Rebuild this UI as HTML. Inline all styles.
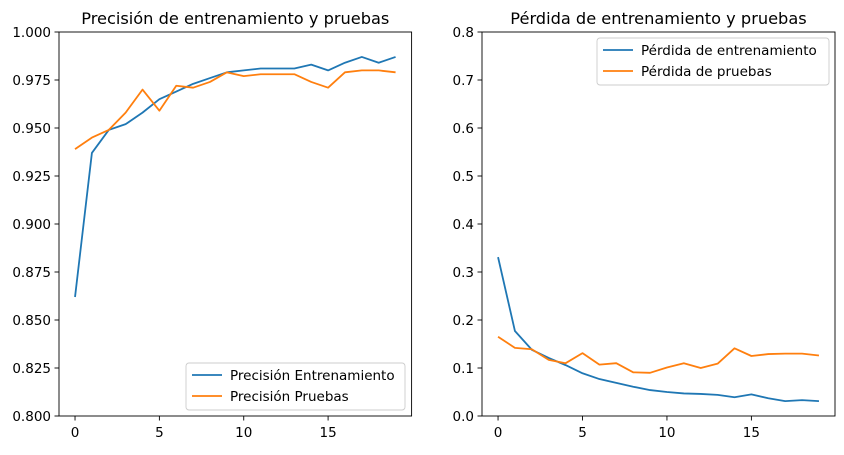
<!DOCTYPE html>
<html><head><meta charset="utf-8"><style>
body{margin:0;background:#fff;font-family:"Liberation Sans","DejaVu Sans",sans-serif;}
svg text{font-family:"DejaVu Sans","Liberation Sans",sans-serif;}
</style></head><body>
<svg id="c" width="844" height="450" xmlns="http://www.w3.org/2000/svg"></svg>
<script>
const epochs=[0,1,2,3,4,5,6,7,8,9,10,11,12,13,14,15,16,17,18,19];
const trainAcc=[0.862,0.937,0.949,0.952,0.958,0.965,0.969,0.973,0.976,0.979,0.980,0.981,0.981,0.981,0.983,0.980,0.984,0.987,0.984,0.987];
const valAcc=[0.939,0.945,0.949,0.958,0.970,0.959,0.972,0.971,0.974,0.979,0.977,0.978,0.978,0.978,0.974,0.971,0.979,0.980,0.980,0.979];
const trainLoss=[0.331,0.177,0.138,0.121,0.106,0.089,0.077,0.069,0.061,0.054,0.050,0.047,0.046,0.044,0.039,0.045,0.037,0.031,0.033,0.031];
const valLoss=[0.165,0.142,0.139,0.117,0.110,0.131,0.107,0.110,0.091,0.090,0.101,0.110,0.100,0.109,0.141,0.125,0.129,0.130,0.130,0.126];
const xTicks=[0,5,10,15];
const accTicks=["0.800","0.825","0.850","0.875","0.900","0.925","0.950","0.975","1.000"];
const lossTicks=["0.0","0.1","0.2","0.3","0.4","0.5","0.6","0.7","0.8"];
const svg=document.getElementById('c');
const NS="http://www.w3.org/2000/svg";
function mk(tag,attrs,parent){const e=document.createElementNS(NS,tag);for(const k in attrs)e.setAttribute(k,attrs[k]);(parent||svg).appendChild(e);return e;}
function panel(x0,x1,y0,y1,ymin,ymax,yt,title,series,labels,legendPos,name){
  const g=mk('g',{});
  
  
  const sx=v=>x0+(v+0.95)/20.9*(x1-x0);
  const sy=v=>y1-(v-ymin)/(ymax-ymin)*(y1-y0);
  xTicks.forEach(t=>{const X=sx(t);mk('line',{x1:X,x2:X,y1:y1,y2:y1+4.5,stroke:'#000','stroke-width':0.9},g);
    const tx=mk('text',{x:X,y:y1+21,'font-size':13.5,'text-anchor':'middle'},g);tx.textContent=t;
    
    });
  yt.forEach(t=>{const Y=sy(parseFloat(t));mk('line',{x1:x0-4.5,x2:x0,y1:Y,y2:Y,stroke:'#000','stroke-width':0.9},g);
    const tx=mk('text',{x:x0-8,y:Y+5,'font-size':13.5,'text-anchor':'end'},g);tx.textContent=t;
    
    });
  const colors=['#1f77b4','#ff7f0e'];
  series.forEach((s,i)=>{const p=mk('polyline',{points:epochs.map((e,j)=>sx(e)+','+sy(s[j])).join(' '),fill:'none',stroke:colors[i],'stroke-width':1.8,'stroke-linejoin':'round'},g);
    
    });
  mk('rect',{x:x0,y:y0,width:x1-x0,height:y1-y0,fill:'none',stroke:'#000','stroke-width':0.9},g);
  const tt=mk('text',{x:(x0+x1)/2,y:y0-8,'font-size':16.2,'text-anchor':'middle'},g);tt.textContent=title;
  
  
  const lw=legendPos.w,lx=legendPos.x,ly=legendPos.y;
  const lg=mk('g',{},g);
  
  
  mk('rect',{x:lx,y:ly,width:lw,height:47,rx:3,fill:'#fff','fill-opacity':0.8,stroke:'#ccc','stroke-width':0.9},lg);
  labels.forEach((l,i)=>{const yy=ly+12+i*21;
    mk('line',{x1:lx+6,x2:lx+36,y1:yy,y2:yy,stroke:colors[i],'stroke-width':1.8},lg);
    const tx=mk('text',{x:lx+44,y:yy+5,'font-size':13.5},lg);tx.textContent=l;
    
    });
}
panel(59,411.6,32,416,0.8,1.0,accTicks,'Precisión de entrenamiento y pruebas',[trainAcc,valAcc],['Precisión Entrenamiento','Precisión Pruebas'],{x:186,y:363,w:219},'accuracy-chart');
panel(482,835,32,416,0,0.8,lossTicks,'Pérdida de entrenamiento y pruebas',[trainLoss,valLoss],['Pérdida de entrenamiento','Pérdida de pruebas'],{x:597,y:38,w:232},'loss-chart');
</script>
</body></html>
